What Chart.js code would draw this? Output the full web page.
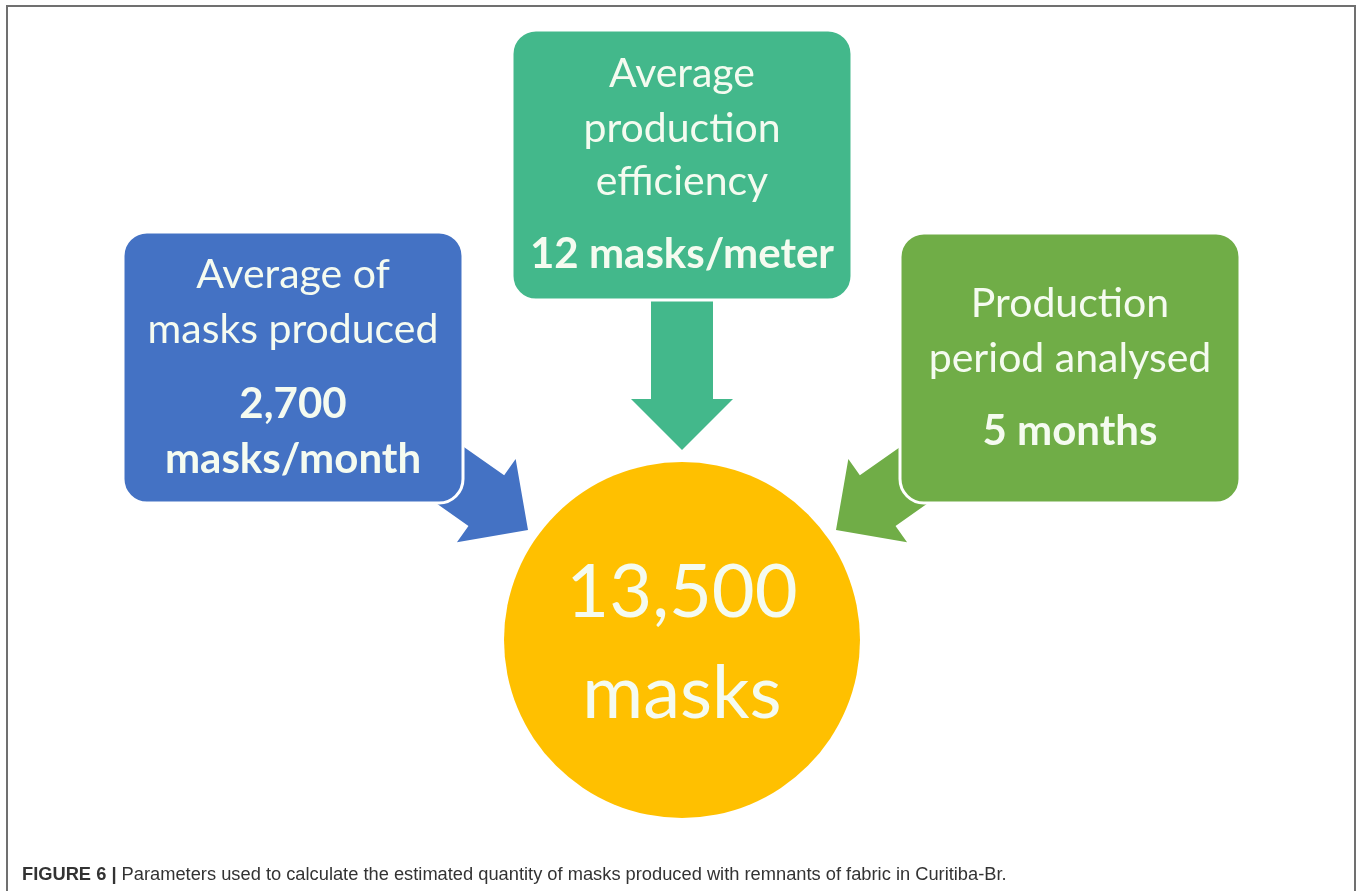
<!DOCTYPE html>
<html>
<head>
<meta charset="utf-8">
<script src="https://cdn.jsdelivr.net/npm/chart.js@4.4.1/dist/chart.umd.min.js"></script>
<style>
  html, body { margin: 0; padding: 0; background: #fff; }
  #wrap { position: relative; width: 1358px; height: 891px; }
  #frame {
    position: absolute; left: 6px; top: 5px; width: 1350px; height: 900px;
    border: 2px solid #707070; border-bottom: none; box-sizing: border-box;
    pointer-events: none;
  }
  #caption {
    position: absolute; left: 22px; top: 863px; line-height: 18px;
    font: 18.3px "Liberation Sans", Arial, sans-serif; color: #333;
    white-space: nowrap;
  }
  #caption b { font-weight: bold; }
</style>
</head>
<body>
<div id="wrap">
  <canvas id="chart"></canvas>
  <div id="frame"></div>
  <div id="caption"><b>FIGURE 6 |</b> Parameters used to calculate the estimated quantity of masks produced with remnants of fabric in Curitiba-Br.</div>
</div>
<script>
'use strict';

/* ── Data ── */
const paramTitles = [
  ['Average of', 'masks produced'],
  ['Average', 'production', 'efficiency'],
  ['Production', 'period analysed']
];
const paramValues = [
  ['2,700', 'masks/month'],
  ['12 masks/meter'],
  ['5 months']
];
const resultLines = ['13,500', 'masks'];

/* ── Layout (scale units = pixels) ── */
const BOX_COLORS = ['#4472c4', '#43b88b', '#70ad47'];
const RESULT_COLOR = '#ffc000';
const TEXT_COLOR = '#f5fbf0';

const boxes = [
  { x: 123, y: 232, w: 340, h: 271, title: [288, 343], value: [418, 473] },
  { x: 512, y: 30,  w: 340, h: 270, title: [87, 142, 195], value: [268] },
  { x: 900, y: 233, w: 340, h: 270, title: [317, 372], value: [445] }
];
const arrows = [
  { from: [430, 461], to: [528, 530] },
  { from: [682, 296], to: [682, 450] },
  { from: [934, 461], to: [836, 530] }
];
const result = { x: 682, y: 640, r: 178, lines: [617, 718] };

const FONT = 'Lato, "Open Sans", sans-serif';

function drawArrow(ctx, x0, y0, x1, y1, shaftW, headW, headL) {
  const dx = x1 - x0, dy = y1 - y0;
  const len = Math.hypot(dx, dy);
  const ux = dx / len, uy = dy / len;
  const nx = -uy, ny = ux;
  const bx = x1 - ux * headL, by = y1 - uy * headL;
  ctx.beginPath();
  ctx.moveTo(x0 + nx * shaftW / 2, y0 + ny * shaftW / 2);
  ctx.lineTo(bx + nx * shaftW / 2, by + ny * shaftW / 2);
  ctx.lineTo(bx + nx * headW / 2, by + ny * headW / 2);
  ctx.lineTo(x1, y1);
  ctx.lineTo(bx - nx * headW / 2, by - ny * headW / 2);
  ctx.lineTo(bx - nx * shaftW / 2, by - ny * shaftW / 2);
  ctx.lineTo(x0 - nx * shaftW / 2, y0 - ny * shaftW / 2);
  ctx.closePath();
  ctx.fill();
}

const diagram = {
  id: 'diagram',
  beforeDatasetsDraw(chart) {
    const { ctx, scales: { x, y } } = chart;
    ctx.save();
    arrows.forEach((a, i) => {
      ctx.fillStyle = BOX_COLORS[i];
      drawArrow(ctx,
        x.getPixelForValue(a.from[0]), y.getPixelForValue(a.from[1]),
        x.getPixelForValue(a.to[0]), y.getPixelForValue(a.to[1]),
        62, 102, 51);
    });
    ctx.restore();
  },
  afterDatasetsDraw(chart) {
    const { ctx, scales: { x, y } } = chart;
    ctx.save();
    boxes.forEach((b, i) => {
      const left = x.getPixelForValue(b.x);
      const top = y.getPixelForValue(b.y);
      const w = x.getPixelForValue(b.x + b.w) - left;
      const h = y.getPixelForValue(b.y + b.h) - top;
      const cx = left + w / 2;
      ctx.beginPath();
      ctx.roundRect(left, top, w, h, 24);
      ctx.fillStyle = BOX_COLORS[i];
      ctx.fill();
      ctx.lineWidth = 3;
      ctx.strokeStyle = '#ffffff';
      ctx.stroke();

      ctx.fillStyle = TEXT_COLOR;
      ctx.textAlign = 'center';
      ctx.textBaseline = 'alphabetic';
      ctx.font = '41px ' + FONT;
      paramTitles[i].forEach((t, k) => ctx.fillText(t, cx, y.getPixelForValue(b.title[k])));
      ctx.font = 'bold 42px ' + FONT;
      paramValues[i].forEach((t, k) => ctx.fillText(t, cx, y.getPixelForValue(b.value[k])));
    });

    ctx.fillStyle = TEXT_COLOR;
    ctx.textAlign = 'center';
    ctx.font = '74px ' + FONT;
    resultLines.forEach((t, k) =>
      ctx.fillText(t, x.getPixelForValue(result.x), y.getPixelForValue(result.lines[k])));
    ctx.restore();
  }
};

new Chart(document.getElementById('chart'), {
  type: 'bubble',
  data: {
    datasets: [{
      label: resultLines.join(' '),
      data: [{ x: result.x, y: result.y, r: result.r }],
      backgroundColor: RESULT_COLOR,
      borderColor: RESULT_COLOR,
      borderWidth: 0,
      clip: false
    }]
  },
  options: {
    responsive: true,
    maintainAspectRatio: false,
    animation: false,
    events: [],
    layout: { padding: 0, autoPadding: false },
    plugins: { legend: { display: false }, tooltip: { enabled: false } },
    scales: {
      x: { type: 'linear', min: 0, max: 1358, display: false },
      y: { type: 'linear', min: 0, max: 891, reverse: true, display: false }
    }
  },
  plugins: [diagram]
});
</script>
</body>
</html>
